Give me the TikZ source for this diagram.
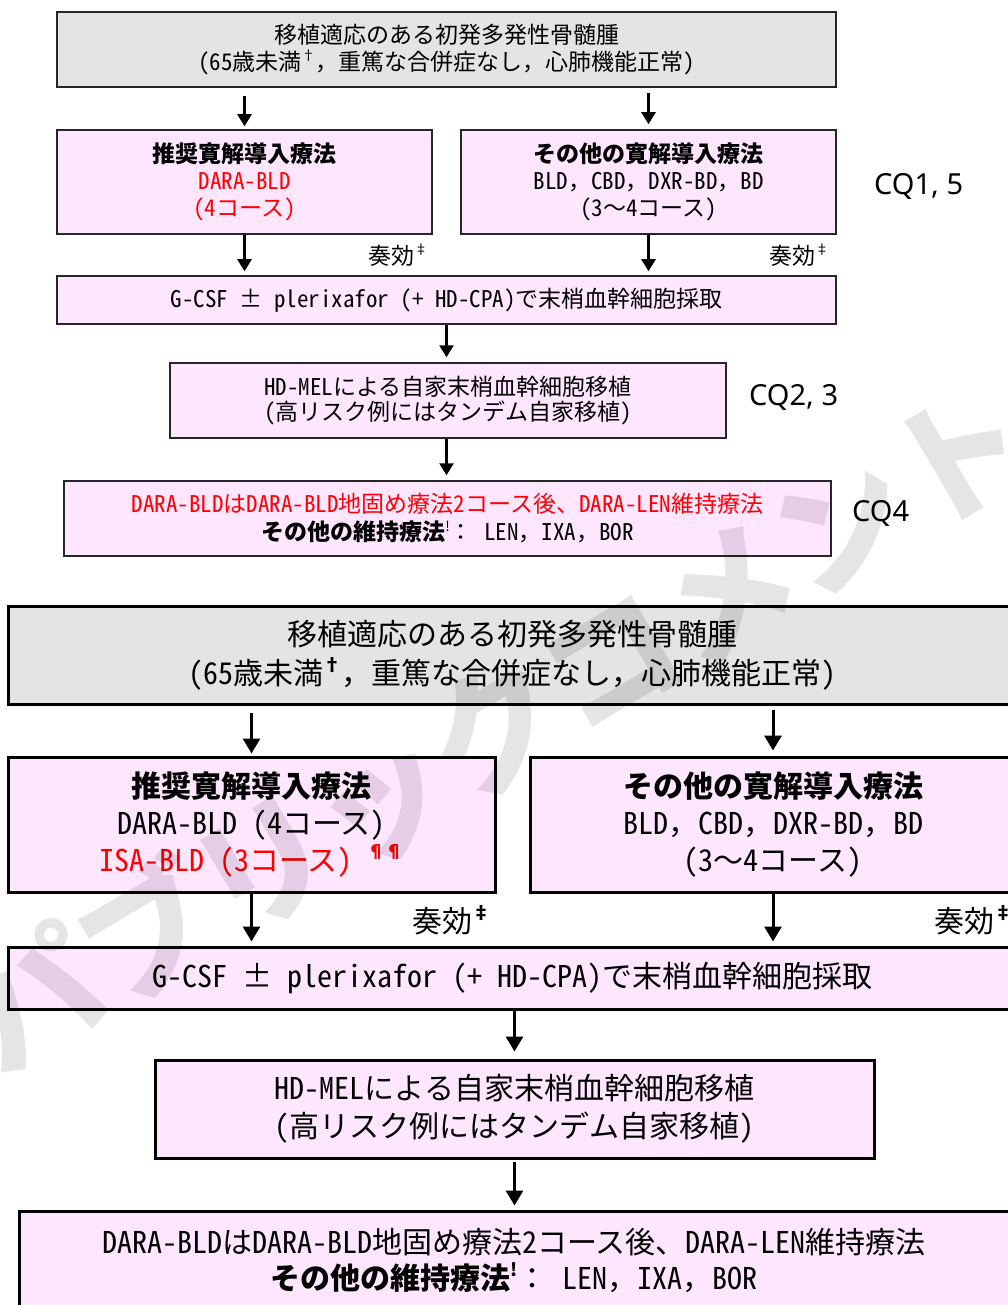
\documentclass[tikz,border=0pt]{standalone}
\usepackage{fontspec}
\setmainfont{Noto Sans CJK JP}
\newfontfamily\hw{Noto Sans CJK JP}[RawFeature=+hwid]
\newfontfamily\cqfont{Noto Sans}
\usetikzlibrary{arrows.meta}
\definecolor{pinkfill}{RGB}{255,230,255}
\definecolor{grayfill}{RGB}{228,228,228}
\newcommand\hh[1]{{\hw #1}}
\newcommand\hsp{\hspace{0.5em}}
\newcommand\supm[1]{\raisebox{0.42em}{\fontsize{0.6em}{0.6em}\selectfont #1}}
\begin{document}
\begin{tikzpicture}[x=1pt,y=-1pt,
  tbox/.style={draw=black!85, line width=1.5pt, inner sep=0pt, align=center,
    font=\fontsize{23}{27}\selectfont},
  bbox/.style={draw=black, line width=3pt, inner sep=0pt, align=center,
    font=\fontsize{30}{37}\selectfont},
  tarr/.style={line width=2.4pt, -{Triangle[width=14pt,length=12pt]}},
  barr/.style={line width=3pt, -{Triangle[width=17pt,length=15pt]}},
  cq/.style={font=\cqfont\fontsize{29}{29}\selectfont, inner sep=0pt, anchor=west},
  lbl/.style={inner sep=0pt},
]
\useasboundingbox (0,0) rectangle (1008,1305);
\clip (0,0) rectangle (1008,1305);

% ---------- top diagram ----------
\node[tbox, fill=grayfill, minimum width=779, minimum height=75] (tA) at (446.5,49.5)
  {移植適応のある初発多発性骨髄腫\\
   \hh{(65}歳未満\supm{†}，重篤な合併症なし，心肺機能正常\hh{)}};
\node[tbox, fill=pinkfill, minimum width=375, minimum height=104] (tL) at (244.5,182)
  {{\bfseries 推奨寛解導入療法}\\
   \textcolor{red}{\hh{DARA-BLD}}\\
   \textcolor{red}{\hh{(4}コース\hh{)}}};
\node[tbox, fill=pinkfill, minimum width=375, minimum height=104] (tR) at (648.5,182)
  {{\bfseries その他の寛解導入療法}\\
   \hh{BLD}，\hh{CBD}，\hh{DXR-BD}，\hh{BD}\\
   \hh{(3}～\hh{4}コース\hh{)}};
\node[tbox, fill=pinkfill, minimum width=779, minimum height=48] (tG) at (446.5,300)
  {\hh{G-CSF}\hsp\hh{±}\hsp\hh{plerixafor}\hsp\hh{(+}\hsp\hh{HD-CPA)}で末梢血幹細胞採取};
\node[tbox, fill=pinkfill, minimum width=556, minimum height=75, font=\fontsize{23}{25}\selectfont] (tH) at (448,400.5)
  {\hh{HD-MEL}による自家末梢血幹細胞移植\\
   \hh{(}高リスク例にはタンデム自家移植\hh{)}};
\node[tbox, fill=pinkfill, minimum width=767, minimum height=75, font=\fontsize{23}{28}\selectfont] (tM) at (447.5,518.5)
  {\textcolor{red}{\hh{DARA-BLD}は\hh{DARA-BLD}地固め療法\hh{2}コース後、\hh{DARA-LEN}維持療法}\\
   {\bfseries その他の維持療法}\supm{!}：\hsp\hh{LEN}，\hh{IXA}，\hh{BOR}};

\draw[tarr, shorten <=8pt, shorten >=3pt] (tA.south -| tL.north) -- (tL.north);
\draw[tarr, shorten <=5pt, shorten >=5pt] (tA.south -| tR.north) -- (tR.north);
\draw[tarr, shorten >=4pt] (tL.south) -- (tL.south |- tG.north);
\draw[tarr, shorten >=4pt] (tR.south) -- (tR.south |- tG.north);
\draw[tarr, shorten >=5pt] (tG.south) -- (tG.south |- tH.north);
\draw[tarr, shorten >=5pt] (tH.south -| tG.south) -- (tG.south |- tM.north);

\node[lbl, anchor=east, font=\fontsize{23}{23}\selectfont] (tS1) at (428,255) {奏効\supm{‡}};
\node[lbl, anchor=east, font=\fontsize{23}{23}\selectfont] (tS2) at (829,255) {奏効\supm{‡}};

\node[cq] (cq1) at (874,186) {CQ1, 5};
\node[cq] (cq2) at (749,397) {CQ2, 3};
\node[cq] (cq3) at (852,513) {CQ4};

% ---------- bottom diagram ----------
\node[bbox, fill=grayfill, minimum width=1008, minimum height=98, font=\fontsize{30}{39}\selectfont] (bA) at (512,655)
  {移植適応のある初発多発性骨髄腫\\
   \hh{(65}歳未満{\bfseries\supm{†}}，重篤な合併症なし，心肺機能正常\hh{)}};
\node[bbox, fill=pinkfill, minimum width=487, minimum height=135] (bL) at (251.5,824.5)
  {{\bfseries 推奨寛解導入療法}\\
   \hh{DARA-BLD}\hsp\hh{(4}コース\hh{)}\\
   \textcolor{red}{\hh{ISA-BLD}\hsp\hh{(3}コース\hh{)}\hsp{\bfseries\supm{¶¶}}}};
\node[bbox, fill=pinkfill, minimum width=486, minimum height=135] (bR) at (773,824.5)
  {{\bfseries その他の寛解導入療法}\\
   \hh{BLD}，\hh{CBD}，\hh{DXR-BD}，\hh{BD}\\
   \hh{(3}～\hh{4}コース\hh{)}};
\node[bbox, fill=pinkfill, minimum width=1008, minimum height=62] (bG) at (512,978)
  {\hh{G-CSF}\hsp\hh{±}\hsp\hh{plerixafor}\hsp\hh{(+}\hsp\hh{HD-CPA)}で末梢血幹細胞採取};
\node[bbox, fill=pinkfill, minimum width=719, minimum height=98, font=\fontsize{30}{38}\selectfont] (bH) at (514.5,1109)
  {\hh{HD-MEL}による自家末梢血幹細胞移植\\
   \hh{(}高リスク例にはタンデム自家移植\hh{)}};
\node[bbox, fill=pinkfill, minimum width=990, minimum height=98, font=\fontsize{30}{36}\selectfont] (bM) at (514,1260)
  {\hh{DARA-BLD}は\hh{DARA-BLD}地固め療法\hh{2}コース後、\hh{DARA-LEN}維持療法\\
   {\bfseries その他の維持療法}{\bfseries\supm{!}}：\hsp\hh{LEN}，\hh{IXA}，\hh{BOR}};

\draw[barr, shorten <=7pt, shorten >=2pt] (bA.south -| bL.north) -- (bL.north);
\draw[barr, shorten <=4pt, shorten >=5pt] (bA.south -| bR.north) -- (bR.north);
\draw[barr, shorten >=4pt] (bL.south) -- (bL.south |- bG.north);
\draw[barr, shorten >=4pt] (bR.south) -- (bR.south |- bG.north);
\draw[barr, shorten >=7pt] (bG.south -| bH.north) -- (bH.north);
\draw[barr, shorten <=2pt, shorten >=4pt] (bH.south) -- (bH.south |- bM.north);

\node[lbl, anchor=east, font=\fontsize{30}{30}\selectfont] (bS1) at (491,920) {奏効{\bfseries\supm{‡}}};
\node[lbl, anchor=east, font=\fontsize{30}{30}\selectfont] (bS2) at (1013,920) {奏効{\bfseries\supm{‡}}};

% ---------- watermark ----------
\node[rotate=30.5, text=black, opacity=0.1, inner sep=0pt,
      font=\bfseries\fontsize{134}{134}\selectfont] (wm) at (495,728) {パブリックコメント};
\end{tikzpicture}
\end{document}
